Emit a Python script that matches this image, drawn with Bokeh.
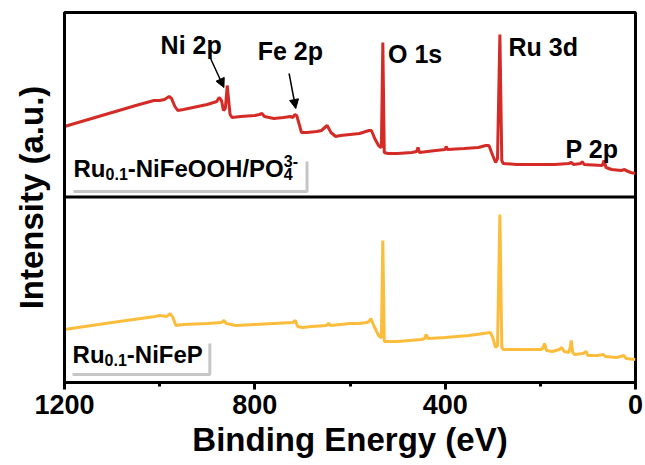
from bokeh.plotting import figure
from bokeh.models import Range1d, FixedTicker, Span, Arrow, NormalHead
from bokeh.core.properties import value
from bokeh.embed import file_html
from bokeh.resources import INLINE

# ---- data (binding energy in eV, intensity in a.u.) ----
red_be = [1200, 1150, 1100, 1050, 1012, 1000, 990, 980, 975, 968, 962, 950, 930, 900, 880, 875, 870, 866,
          862, 858, 855, 852, 848, 830, 800, 790, 785, 780, 760, 740, 725, 720, 716, 712, 706, 702, 690,
          670, 660, 648, 640, 630, 620, 600, 580, 560, 555, 548, 540, 535, 534, 531, 528, 520, 500, 470,
          460, 457, 454, 420, 400, 398, 395, 360, 330, 315, 308, 300, 294, 290, 285, 281, 278, 250, 200,
          170, 140, 135, 130, 115, 112, 108, 70, 66, 62, 50, 30, 23, 20, 10, 0]
red_int = [70, 77, 84, 91, 96, 96, 97, 100, 98, 90, 86, 87, 89, 92, 95, 99, 96, 86,
           88, 111, 96, 82, 79, 80, 81, 82, 83, 80, 78, 79, 80, 79, 82, 81, 71, 64, 64,
           65, 66, 71, 64, 60, 61, 62, 63, 66, 66, 58, 51, 49, 50, 154, 44, 43, 43, 44,
           45, 49, 44, 46, 47, 50, 47, 48, 49, 51, 51, 41, 34, 38, 162, 36, 33, 32, 32,
           32, 33, 34, 32, 33, 35, 32, 31, 36, 29, 27, 26, 27, 26, 24, 23]

yel_be = [1200, 1100, 1010, 1000, 985, 978, 972, 966, 950, 900, 870, 865, 860, 840, 800, 760, 720, 715,
          710, 700, 680, 650, 645, 640, 600, 580, 565, 560, 556, 550, 540, 535, 534, 531, 528, 500, 450,
          443, 440, 436, 400, 350, 320, 305, 300, 294, 290, 285, 281, 278, 250, 200, 195, 191, 187, 175,
          160, 155, 150, 140, 137, 135, 132, 128, 110, 104, 100, 80, 67, 64, 40, 24, 20, 0]
yel_int = [53, 60, 66, 67, 66, 69, 65, 57, 58, 59, 60, 62, 59, 57, 58, 59, 60, 62,
           56, 55, 56, 57, 59, 57, 59, 59, 60, 61, 64, 57, 47, 45, 45, 142, 41, 41, 43,
           44, 48, 44, 45, 47, 49, 50, 45, 35, 37, 168, 35, 33, 33, 33, 34, 39, 32, 31,
           33, 35, 31, 30, 36, 42, 30, 28, 29, 31, 27, 27, 28, 26, 25, 27, 24, 23]

x_ticks = [1200, 800, 400, 0]
x_minor = [1000, 600, 200]

peak_labels = ["Ni 2p", "Fe 2p", "O 1s", "Ru 3d", "P 2p"]

RED = "#d42b27"
YEL = "#fbbd3b"
FONT = "Liberation Sans"

OFFSET = 186  # vertical offset of the upper spectrum (a.u.)
TXT_SHIFT = 9  # baseline correction for text glyphs

p = figure(width=645, height=465, output_backend="svg", toolbar_location=None,
           x_range=Range1d(1200, 0), y_range=Range1d(0, 370),
           min_border_left=64, min_border_right=10, min_border_top=12, min_border_bottom=83)
p.grid.visible = False
p.outline_line_color = "black"
p.outline_line_width = 3
p.background_fill_color = "white"
p.border_fill_color = "white"

# x axis
xa = p.xaxis[0]
xa.ticker = FixedTicker(ticks=x_ticks, minor_ticks=x_minor)
xa.axis_line_width = 3
xa.major_tick_line_width = 3
xa.minor_tick_line_width = 3
xa.major_tick_out = 7
xa.major_tick_in = 0
xa.minor_tick_out = 4
xa.minor_tick_in = 0
xa.major_label_text_font = FONT
xa.major_label_text_font_style = "bold"
xa.major_label_text_font_size = "27px"
xa.major_label_text_color = "black"
xa.major_label_standoff = 5
xa.axis_label = "Binding Energy (eV)"
xa.axis_label_text_font = FONT
xa.axis_label_text_font_style = "bold"
xa.axis_label_text_font_size = "33px"
xa.axis_label_text_color = "black"
xa.axis_label_standoff = 4

# y axis
ya = p.yaxis[0]
ya.ticker = FixedTicker(ticks=[])
ya.axis_line_width = 3
ya.major_tick_out = 0
ya.major_tick_in = 0
ya.minor_tick_out = 0
ya.minor_tick_in = 0
ya.major_label_standoff = 0
ya.axis_label = "Intensity (a.u.)"
ya.axis_label_text_font = FONT
ya.axis_label_text_font_style = "bold"
ya.axis_label_text_font_size = "33px"
ya.axis_label_text_color = "black"
ya.axis_label_standoff = 15

# divider between the two panels
p.add_layout(Span(location=OFFSET - 0.5, dimension="width", line_color="black", line_width=3))

# spectra
p.line(yel_be, yel_int, line_color=YEL, line_width=3)
p.line(red_be, [v + OFFSET for v in red_int], line_color=RED, line_width=3)

# peak annotations
ann_x = [998, 794, 520, 267, 147]
ann_y = [329, 323, 320, 327, 225]
p.text(x=ann_x, y=[v + TXT_SHIFT for v in ann_y], text=peak_labels, text_font=value(FONT),
       text_font_style="bold", text_font_size="25px", text_color="black", text_align="left",
       text_baseline="alphabetic")

for xs, ys, xe, ye in [(893, 324, 865, 295), (728, 309, 714, 274)]:
    p.add_layout(Arrow(end=NormalHead(size=9, fill_color="black", line_color="black", line_width=1),
                       x_start=xs, y_start=ys, x_end=xe, y_end=ye, line_color="black", line_width=1.5))

# sample labels with sub/superscripts
W = {"R": 722, "u": 611, "0": 556, ".": 278, "1": 556, "-": 333, "N": 722, "i": 278, "F": 611,
     "e": 556, "O": 778, "H": 722, "/": 278, "P": 667, "4": 556, "3": 556}


def tw(s, size):
    return sum(W[c] for c in s) / 1000.0 * size


def sample_label(x0, base, pieces):
    off = 0.0
    end = 0.0
    for txt, size, dy, advance in pieces:
        p.text(x=[x0], y=[base + dy + TXT_SHIFT], text=[txt], x_offset=off, text_font=value(FONT),
               text_font_style="bold", text_font_size=f"{size}px", text_color="black",
               text_align="left", text_baseline="alphabetic")
        end = max(end, off + tw(txt, size))
        if advance:
            off += tw(txt, size)
    return end


BIG, SMALL = 24, 16
top_end = sample_label(1181, 205, [("Ru", BIG, 0, True), ("0.1", SMALL, -5, True),
                                   ("-NiFeOOH/PO", BIG, 0, True), ("3-", SMALL, 8, False),
                                   ("4", SMALL, -5, True)])
bot_end = sample_label(1183, 19, [("Ru", BIG, 0, True), ("0.1", SMALL, -5, True),
                                  ("-NiFeP", BIG, 0, True)])

# grey shadow of the label boxes
px_per_ev = 571 / 1200.0
for x0, end, ytop, ybot in [(1181, top_end + 9, 221, 191), (1183, bot_end + 7, 39, 8)]:
    xr = x0 - end / px_per_ev
    p.line([x0, xr, xr], [ybot, ybot, ytop], line_color="#c6c6c6", line_width=3)

open("out.html", "w").write(file_html(p, INLINE))
